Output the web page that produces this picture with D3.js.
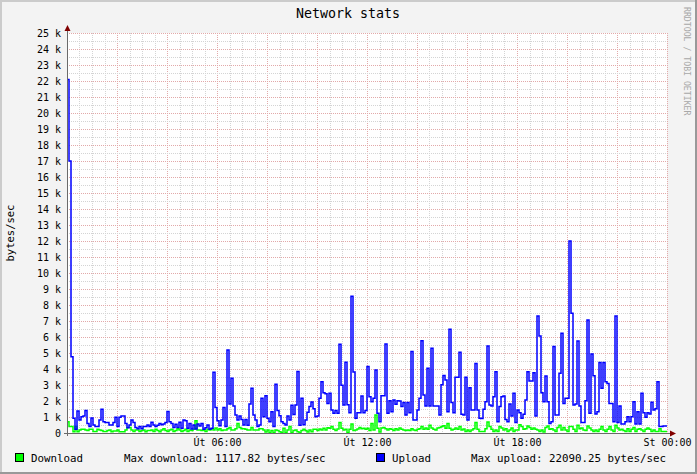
<!DOCTYPE html>
<html><head><meta charset="utf-8">
<script src="https://cdn.jsdelivr.net/npm/d3@7"></script>
<style>
html,body{margin:0;padding:0;background:#fff;}
svg{display:block;}
text{font-family:"DejaVu Sans Mono",monospace;}
</style></head><body>
<svg id="chart" width="697" height="474"></svg>
<script>
// ---------------- data ----------------
const dayNames = ["Ne", "Po", "Út", "St", "Čt", "Pá", "So"];
const title = "Network stats";
const yAxisTitle = "bytes/sec";
const seriesNames = ["Download", "Upload"];
const seriesColors = ["#00FF00", "#0000FF"];
const yTickValues = d3.range(0, 26, 1);          // thousands of bytes/sec
const yMinorValues = d3.range(0.5, 25, 1);
const stepSeconds = 288;                          // one sample per 288 s over 24 h
const startTime = new Date(2013, 0, 1, 0, 0, 0);  // a Tuesday ("Út")

// upload, thousands of bytes/sec
const upload = [
22.09025, 17.0, 4.77, 0.92, 0.23, 1.37, 0.81, 1.02, 1.06, 1.4,
0.6, 0.4, 0.94, 0.5, 0.4, 0.4, 0.81, 1.48, 0.71, 0.65,
0.65, 0.5, 0.5, 0.65, 0.98, 0.4, 0.98, 1.06, 1.06, 0.6,
0.33, 0.5, 0.81, 0.65, 0.35, 0.27, 0.4, 0.27, 0.4, 0.4,
0.5, 0.4, 0.67, 0.5, 0.4, 0.48, 0.6, 0.52, 0.56, 0.65,
1.35, 0.71, 0.6, 0.35, 0.54, 0.35, 0.67, 0.29, 0.81, 0.77,
0.29, 0.6, 0.25, 0.5, 0.25, 0.56, 0.44, 0.6, 0.23, 0.33,
0.5, 0.23, 0.29, 3.79, 1.6, 0.77, 0.46, 0.81, 1.6, 0.4,
5.19, 1.81, 3.42, 1.69, 1.13, 0.81, 1.06, 0.85, 0.5, 0.85,
0.48, 1.81, 2.79, 1.13, 0.81, 0.4, 0.5, 2.17,
1.02, 2.33, 0.92, 0.71, 1.33, 0.4, 3.04, 1.4, 1.08, 0.71,
0.6, 0.5, 1.06, 0.81, 1.73, 1.15, 1.75, 3.85, 0.48, 2.17,
0.52, 0.81, 1.29, 1.65, 1.94, 1.52, 1.02, 1.06, 2.17, 3.21,
2.52, 2.46, 1.85, 2.48, 1.44, 1.23, 1.4, 1.23, 5.54, 2.98,
1.75, 4.42, 1.77, 1.27, 8.54, 3.81, 0.92, 1.27, 1.27, 2.31,
1.27, 1.4, 4.15, 2.27, 1.96, 2.17, 3.94, 1.23, 0.71, 2.33,
2.33, 5.56, 1.23, 2.02, 1.33, 2.06, 1.79, 2.02, 2.0, 1.65,
1.9, 1.13, 1.9, 1.27, 5.1, 0.81, 0.81, 1.44, 2.17, 5.77,
2.38, 1.69, 4.04, 1.69, 5.29, 1.69, 1.69, 1.69, 1.13, 3.02,
3.6, 3.31, 1.33, 6.48, 1.9, 1.27, 3.48, 3.48, 5.04,
1.17, 1.13, 3.48, 0.81, 2.83, 1.44, 1.44, 4.35, 1.44, 0.92,
0.9, 1.48, 1.96, 5.44, 1.75, 1.69, 2.27, 3.83, 0.71, 1.65,
2.27, 2.31, 0.85, 0.71, 1.81, 1.06, 2.48, 0.65, 1.44, 1.27,
0.92, 1.17, 2.06, 3.83, 3.25, 3.25, 3.77, 1.06, 7.31, 6.06,
2.52, 1.96, 3.56, 1.96, 0.6, 0.71, 5.4, 1.13, 1.13, 3.73,
6.23, 1.85, 2.17, 2.17, 12.0, 7.48, 1.75, 1.81, 5.75, 1.69,
0.65, 0.65, 2.02, 7.06, 1.23, 4.94, 3.58, 1.19, 1.33, 4.4,
2.79, 4.4, 3.21, 3.1, 1.85, 1.85, 0.71, 7.31, 0.65, 1.69,
0.56, 0.56, 0.71, 1.02, 0.71, 1.02, 1.96, 0.56, 1.33, 0.56,
2.48, 1.27, 0.98, 1.27, 1.19, 1.92, 1.44, 1.52, 3.21, 0.4,
0.4, 0.44, 0.44
];

// download, thousands of bytes/sec
const download = [
0.71, 0.4, 0.4, 0.08, 0.4, 0.08, 0.19, 0.23, 0.23, 0.19,
0.15, 0.23, 0.23, 0.10, 0.10, 0.23, 0.19, 0.15, 0.10, 0.10,
0.15, 0.19, 0.08, 0.13, 0.13, 0.19, 0.08, 0.08, 0.08, 0.19,
0.35, 0.35, 0.19, 0.10, 0.19, 0.19, 0.10, 0.15, 0.19, 0.08,
0.15, 0.15, 0.19, 0.10, 0.23, 0.15, 0.08, 0.19, 0.27, 0.15,
0.10, 0.19, 0.23, 0.10, 0.15, 0.27, 0.19, 0.10, 0.15, 0.23,
0.10, 0.19, 0.15, 0.23, 0.77, 0.19, 0.19, 0.15, 0.19, 0.10,
0.23, 0.19, 0.27, 0.19, 0.31, 0.19, 0.27, 0.15, 0.19, 0.19,
0.27, 0.35, 0.19, 0.19, 0.27, 0.6, 0.35, 0.27, 0.27, 0.23,
0.19, 0.19, 0.35, 0.19, 0.19, 0.19, 0.27, 0.27,
0.19, 0.06, 0.19, 0.02, 0.15, 0.02, 0.19, 0.15, 0.08, 0.02,
0.29, 0.02, 0.19, 0.4, 0.02, 0.15, 0.19, 0.08, 0.02, 0.15,
0.23, 0.15, 0.06, 0.19, 0.08, 0.23, 0.23, 0.15, 0.25, 0.19,
0.29, 0.19, 0.33, 0.29, 0.4, 0.23, 0.15, 0.25, 0.65, 0.29,
0.19, 0.23, 0.02, 0.23, 0.56, 0.15, 0.19, 0.25, 0.35, 0.27,
0.29, 0.23, 0.29, 0.15, 0.6, 0.19, 1.11782, 0.29, 0.06, 0.31,
0.35, 0.27, 0.19, 0.27, 0.23, 0.15, 0.27, 0.19, 0.31, 0.23,
0.19, 0.15, 0.19, 0.15, 0.27, 0.19, 0.15, 0.23, 0.27, 0.4,
0.23, 0.31, 0.23, 0.48, 0.31, 0.23, 0.19, 0.31, 0.35, 0.4,
0.46, 0.29, 0.6, 0.29, 0.19, 0.23, 0.31, 0.23, 0.4,
0.19, 0.25, 0.10, 0.19, 0.10, 0.19, 0.27, 0.65, 0.23, 0.10,
0.10, 0.10, 0.27, 0.69, 0.4, 0.23, 0.10, 0.19, 0.10, 0.4,
0.31, 0.19, 0.27, 0.10, 0.19, 0.31, 0.10, 0.19, 0.19, 0.52,
0.4, 0.23, 0.27, 0.44, 0.35, 0.23, 0.31, 0.23, 0.19, 0.10,
0.19, 0.06, 0.35, 0.44, 0.23, 0.27, 0.19, 0.10, 0.35, 0.48,
0.19, 0.35, 0.19, 0.10, 0.4, 0.4, 0.23, 0.10, 0.48, 0.27,
0.31, 0.19, 0.15, 0.44, 0.31, 0.19, 0.10, 0.19, 0.10, 0.23,
0.4, 0.19, 0.10, 0.23, 0.4, 0.19, 0.10, 0.48, 0.31, 0.19,
0.23, 0.15, 0.10, 0.27, 0.10, 0.23, 0.35, 0.10, 0.23, 0.27,
0.19, 0.10, 0.23, 0.31, 0.23, 0.10, 0.19, 0.10, 0.10, 0.27,
0.10, 0.10, 0.10
];

// ---------------- layout ----------------
const W = 697, H = 474;
const plot = {left: 67, top: 33, width: 600, height: 400};
const FONT = '"DejaVu Sans Mono", monospace';

const endTime = new Date(startTime.getTime() + 86400 * 1000);
const x = d3.scaleTime().domain([startTime, endTime]).range([plot.left, plot.left + plot.width]);
const y = d3.scaleLinear().domain([0, 25]).range([plot.top + plot.height, plot.top]);

const svg = d3.select("#chart");

// background + 3D frame
svg.append("rect").attr("width", W).attr("height", H).attr("fill", "#F3F3F3");
svg.append("rect").attr("x", 0).attr("y", 0).attr("width", W).attr("height", 2).attr("fill", "#CBCBCB");
svg.append("rect").attr("x", 0).attr("y", 0).attr("width", 2).attr("height", H).attr("fill", "#CBCBCB");
svg.append("rect").attr("x", W - 2).attr("y", 0).attr("width", 2).attr("height", H).attr("fill", "#999999");
svg.append("rect").attr("x", 0).attr("y", H - 2).attr("width", W).attr("height", 2).attr("fill", "#999999");

// canvas
svg.append("rect").attr("x", plot.left).attr("y", plot.top)
  .attr("width", plot.width).attr("height", plot.height).attr("fill", "#FFFFFF");

const grid = svg.append("g").attr("shape-rendering", "crispEdges");
const minorColor = "#D4D4D4", majorColor = "#E2A9A9";

// vertical grid: minor 30 min, major 2 h
const halfHours = d3.timeMinute.every(30).range(startTime, new Date(endTime.getTime() + 1));
halfHours.forEach(t => {
  const isMajor = t.getMinutes() === 0 && t.getHours() % 2 === 0;
  const xx = Math.round(x(t)) + 0.5;
  grid.append("line").attr("x1", xx).attr("x2", xx)
    .attr("y1", plot.top).attr("y2", plot.top + plot.height)
    .attr("stroke", isMajor ? majorColor : minorColor)
    .attr("stroke-dasharray", "1,1");
});
// horizontal grid
yMinorValues.forEach(v => {
  const yy = Math.round(y(v)) + 0.5;
  grid.append("line").attr("x1", plot.left).attr("x2", plot.left + plot.width)
    .attr("y1", yy).attr("y2", yy).attr("stroke", minorColor).attr("stroke-dasharray", "1,1");
});
yTickValues.filter(v => v > 0).forEach(v => {
  const yy = Math.round(y(v)) + 0.5;
  grid.append("line").attr("x1", plot.left).attr("x2", plot.left + plot.width)
    .attr("y1", yy).attr("y2", yy).attr("stroke", majorColor).attr("stroke-dasharray", "1,1");
});

// series lines (step)
function stepPoints(arr) {
  const pts = arr.map((v, i) => [new Date(startTime.getTime() + i * stepSeconds * 1000), v]);
  pts.push([new Date(startTime.getTime() + arr.length * stepSeconds * 1000), arr[arr.length - 1]]);
  return pts;
}
const line = d3.line().x(d => x(d[0])).y(d => y(d[1])).curve(d3.curveStepAfter);
svg.append("path").datum(stepPoints(download)).attr("d", line)
  .attr("fill", "none").attr("stroke", seriesColors[0]).attr("stroke-width", 1.5).attr("stroke-linejoin", "miter");
svg.append("path").datum(stepPoints(upload)).attr("d", line)
  .attr("fill", "none").attr("stroke", seriesColors[1]).attr("stroke-width", 1.5).attr("stroke-linejoin", "miter");

// axes lines + arrows
const axisColor = "#6A6A6A";
svg.append("line").attr("x1", plot.left + 0.5).attr("x2", plot.left + 0.5)
  .attr("y1", plot.top + plot.height + 3).attr("y2", plot.top - 4)
  .attr("stroke", axisColor).attr("stroke-width", 1).attr("shape-rendering", "crispEdges");
svg.append("line").attr("x1", plot.left - 3).attr("x2", plot.left + plot.width + 4)
  .attr("y1", plot.top + plot.height + 0.5).attr("y2", plot.top + plot.height + 0.5)
  .attr("stroke", axisColor).attr("stroke-width", 1).attr("shape-rendering", "crispEdges");
const ax = plot.left + 0.5, ay = plot.top;
svg.append("path").attr("d", `M${ax},${ay - 8} L${ax - 3},${ay - 2} L${ax + 3},${ay - 2} Z`).attr("fill", "#800000");
const bx = plot.left + plot.width, by = plot.top + plot.height + 0.5;
svg.append("path").attr("d", `M${bx + 9},${by} L${bx + 3},${by - 3} L${bx + 3},${by + 3} Z`).attr("fill", "#800000");

// y axis labels
const yAxis = d3.axisLeft(y).tickValues(yTickValues).tickSize(0).tickPadding(0)
  .tickFormat(v => v === 0 ? "0" : v + " k");
const gy = svg.append("g").attr("transform", `translate(${plot.left - 6},0)`).call(yAxis);
gy.select(".domain").remove();
gy.selectAll("text").attr("font-family", FONT).attr("font-size", "10px").attr("fill", "#000").attr("dy", "0.36em").attr("x", 0);

// x axis labels
const xTicks = d3.timeHour.every(6).range(new Date(startTime.getTime() + 1), new Date(endTime.getTime() + 1));
const fmt = t => dayNames[t.getDay()] + " " + d3.timeFormat("%H:%M")(t);
const xAxis = d3.axisBottom(x).tickValues(xTicks).tickSize(0).tickPadding(0).tickFormat(fmt);
const gx = svg.append("g").attr("transform", `translate(0,${plot.top + plot.height + 4})`).call(xAxis);
gx.select(".domain").remove();
gx.selectAll("text").attr("font-family", FONT).attr("font-size", "10px").attr("fill", "#000").attr("dy", "0.85em");

// title
svg.append("text").attr("x", 348).attr("y", 18).attr("text-anchor", "middle")
  .attr("font-family", FONT).attr("font-size", "13.3px").attr("fill", "#000").text(title);

// y axis title
svg.append("text").attr("transform", "translate(14,233) rotate(-90)").attr("text-anchor", "middle")
  .attr("font-family", FONT).attr("font-size", "10.5px").attr("fill", "#000").text(yAxisTitle);

// watermark
svg.append("text").attr("transform", "translate(684,7) rotate(90)")
  .attr("font-family", FONT).attr("font-size", "8.2px").attr("fill", "#A8A8A8")
  .text("RRDTOOL / TOBI OETIKER");

// legend
const maxDown = d3.max(download) * 1000, maxUp = d3.max(upload) * 1000;
const legendItems = [
  {sq: 15, label: 31, text: seriesNames[0], color: seriesColors[0], maxX: 124, maxText: "Max download: " + maxDown.toFixed(2) + " bytes/sec"},
  {sq: 376, label: 392, text: seriesNames[1], color: seriesColors[1], maxX: 471, maxText: "Max upload: " + maxUp.toFixed(2) + " bytes/sec"}
];
const ly = 462;
legendItems.forEach(it => {
  svg.append("rect").attr("x", it.sq + 0.5).attr("y", 453.5).attr("width", 8).attr("height", 8)
    .attr("fill", it.color).attr("stroke", "#000").attr("stroke-width", 1).attr("shape-rendering", "crispEdges");
  svg.append("text").attr("x", it.label).attr("y", ly).attr("font-family", FONT).attr("font-size", "10.8px")
    .attr("fill", "#000").text(it.text);
  svg.append("text").attr("x", it.maxX).attr("y", ly).attr("font-family", FONT).attr("font-size", "10.8px")
    .attr("fill", "#000").text(it.maxText);
});
</script>
</body></html>
